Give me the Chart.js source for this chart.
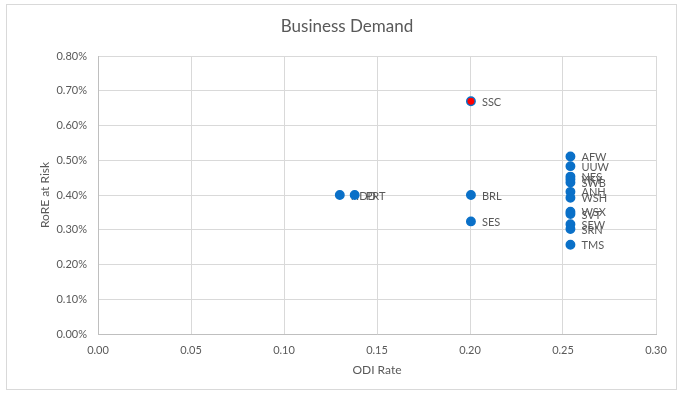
<!DOCTYPE html>
<html lang="en">
<head>
    <meta charset="UTF-8">
    <title>Business Demand</title>
    <style>
        html, body { margin: 0; padding: 0; background: #fff; }
        #wrap { width: 682px; height: 394px; }
    </style>
</head>
<body>
    <div id="wrap">
        <canvas id="demand_canvas" width="682" height="394"></canvas>
    </div>
    <script src="https://cdn.jsdelivr.net/npm/chart.js@4.4.0/dist/chart.umd.min.js"></script>
    <script>
        // Data
        const chartTitle = "Business Demand";
        const xTitle = "ODI Rate";
        const yTitle = "RoRE at Risk";
        const codes    = ["HDD", "PRT", "SSC", "BRL", "SES", "AFW", "UUW", "NES", "YKY", "SWB", "ANH", "WSH", "WSX", "SVT", "SEW", "SRN", "TMS"];
        const odiRate  = [0.130, 0.138, 0.2005, 0.2005, 0.2005, 0.254, 0.254, 0.254, 0.254, 0.254, 0.254, 0.254, 0.254, 0.254, 0.254, 0.254, 0.254];
        const roreRisk = [0.0040, 0.0040, 0.0067, 0.0040, 0.00324, 0.00511, 0.00483, 0.00453, 0.00445, 0.00436, 0.00409, 0.00392, 0.00352, 0.00345, 0.00316, 0.00302, 0.00257];
        const highlighted = ["SSC"];

        const blue = "#0A70C8";
        const red = "#FF0000";
        const textGrey = "#595959";
        const fontFamily = "Lato, 'Open Sans', sans-serif";

        // white background + thin chart border, like the Excel chart frame
        const frame = {
            id: "frame",
            beforeDraw(chart) {
                const ctx = chart.ctx;
                ctx.save();
                ctx.fillStyle = "#fff";
                ctx.fillRect(0, 0, chart.width, chart.height);
                ctx.strokeStyle = "#d9d9d9";
                ctx.lineWidth = 1;
                ctx.strokeRect(6.5, 4.5, 670, 385);
                ctx.restore();
            },
            afterDraw(chart) {
                const ctx = chart.ctx;
                ctx.save();
                ctx.fillStyle = textGrey;
                ctx.font = "17px " + fontFamily;
                ctx.textAlign = "center";
                ctx.textBaseline = "middle";
                ctx.fillText(chartTitle, 347, 27);
                ctx.restore();
            }
        };

        // point labels to the right of each marker
        const pointLabels = {
            id: "pointLabels",
            beforeDatasetsDraw(chart) {
                const ctx = chart.ctx;
                const meta = chart.getDatasetMeta(0);
                ctx.save();
                ctx.fillStyle = textGrey;
                ctx.font = "11px " + fontFamily;
                ctx.textAlign = "left";
                ctx.textBaseline = "middle";
                meta.data.forEach((pt, i) => {
                    ctx.fillText(codes[i], pt.x + 11, pt.y + 1);
                });
                ctx.restore();
            }
        };

        new Chart(document.getElementById("demand_canvas"), {
            type: "scatter",
            data: {
                datasets: [{
                    label: chartTitle,
                    data: codes.map((c, i) => ({ x: odiRate[i], y: roreRisk[i] })),
                    pointRadius: 4.2,
                    pointBorderWidth: 1.5,
                    pointBackgroundColor: codes.map(c => highlighted.includes(c) ? red : blue),
                    pointBorderColor: blue,
                }]
            },
            options: {
                responsive: false,
                animation: false,
                layout: { padding: { top: 56, left: 8, right: 26, bottom: 8 } },
                plugins: {
                    legend: { display: false },
                    tooltip: { enabled: false },
                    title: { display: false }
                },
                scales: {
                    x: {
                        type: "linear",
                        min: 0,
                        max: 0.3,
                        grid: { color: "#d9d9d9", drawTicks: false },
                        border: { color: "#bfbfbf" },
                        ticks: {
                            stepSize: 0.05,
                            padding: 10,
                            color: textGrey,
                            font: { family: fontFamily, size: 11 },
                            callback: (v) => v.toFixed(2)
                        },
                        title: {
                            display: true,
                            text: xTitle,
                            color: textGrey,
                            font: { family: fontFamily, size: 12 },
                            padding: { top: 0, bottom: 9 }
                        },
                        afterFit: (scale) => { scale.height = 52; }
                    },
                    y: {
                        min: 0,
                        max: 0.008,
                        grid: { color: "#d9d9d9", drawTicks: false },
                        border: { color: "#bfbfbf" },
                        ticks: {
                            stepSize: 0.001,
                            padding: 11,
                            color: textGrey,
                            font: { family: fontFamily, size: 11 },
                            callback: (v) => (v * 100).toFixed(2) + "%"
                        },
                        title: {
                            display: true,
                            text: yTitle,
                            color: textGrey,
                            font: { family: fontFamily, size: 12 },
                            padding: { top: 30, bottom: 0 }
                        },
                        afterFit: (scale) => { scale.width = 90; }
                    }
                }
            },
            plugins: [frame, pointLabels]
        });
    </script>
</body>
</html>
